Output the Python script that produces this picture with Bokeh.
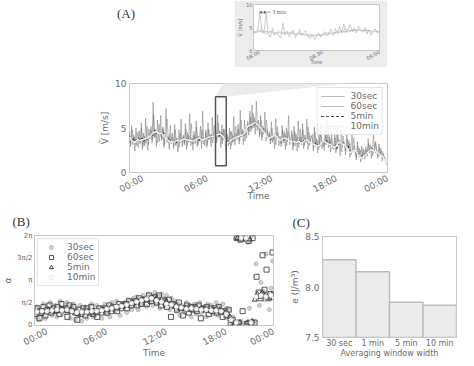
import numpy as np
from bokeh.plotting import figure
from bokeh.layouts import column, row
from bokeh.models import (Spacer, Div, FixedTicker, CustomJSTickFormatter, Legend, LegendItem,
                          Range1d, FactorRange, Arrow, VeeHead, Label, PrintfTickFormatter,
                          AllLabels)
from bokeh.embed import file_html
from bokeh.resources import INLINE

# ---------------- data: panel A (wind speed, m/s) ----------------
v30 = [4.6, 2.9, 5.3, 3.1, 4.2, 2.4, 5.0, 3.6, 2.8, 4.7,
       3.2, 5.6, 2.6, 4.4, 3.0, 6.1, 3.4, 2.5, 4.9, 3.8,
       5.2, 3.3, 7.9, 3.9, 4.8, 2.9, 5.9, 4.1, 3.5, 6.4,
       3.6, 5.1, 2.8, 4.6, 7.2, 3.4, 4.0, 2.6, 5.3, 3.7,
       4.4, 2.7, 5.4, 3.0, 3.9, 2.3, 4.8, 3.3, 6.0, 2.9,
       4.2, 3.1, 5.5, 2.6, 4.5, 3.4, 6.6, 3.0, 3.9, 2.5,
       4.6, 3.2, 5.8, 2.9, 4.1, 3.5, 5.2, 2.7, 6.9, 3.6,
       3.0, 4.8, 2.8, 5.6, 3.7, 4.3, 2.9, 6.2, 3.8, 4.5,
       5.1, 3.3, 6.5, 3.9, 4.7, 2.8, 5.4, 3.6, 4.9, 3.2,
       2.4, 4.3, 3.0, 5.0, 2.6, 4.6, 3.4, 6.3, 3.1, 4.4,
       3.7, 5.4, 3.2, 7.0, 4.0, 4.8, 3.1, 5.9, 4.5, 3.9,
       5.8, 4.2, 6.9, 4.6, 7.6, 5.0, 6.2, 4.3, 8.0, 5.1,
       5.9, 4.0, 6.4, 3.6, 5.2, 4.4, 6.8, 3.5, 4.9, 3.8,
       4.6, 3.2, 5.7, 3.4, 4.2, 2.7, 6.1, 3.8, 4.5, 3.0,
       4.1, 2.9, 5.3, 3.3, 4.6, 2.6, 5.0, 3.5, 6.4, 3.1,
       3.6, 4.7, 2.5, 5.2, 3.0, 4.3, 2.4, 5.8, 3.2, 4.0,
       3.1, 5.5, 2.7, 4.2, 3.4, 6.0, 2.6, 4.5, 3.3, 3.9,
       4.3, 2.4, 5.1, 2.9, 3.8, 2.2, 4.9, 3.0, 5.6, 2.7,
       3.6, 2.5, 4.7, 3.1, 5.9, 2.8, 4.0, 2.3, 4.6, 3.2,
       2.6, 4.4, 2.2, 5.2, 3.0, 3.7, 1.9, 4.8, 2.9, 3.5,
       3.2, 2.0, 4.3, 2.6, 3.6, 1.7, 2.9, 4.6, 2.3, 3.0,
       2.4, 1.4, 3.5, 1.9, 2.7, 1.2, 3.0, 1.8, 2.5, 1.5,
       2.9, 1.8, 3.8, 2.2, 3.1, 1.6, 2.6, 4.2, 2.4, 3.3,
       2.5, 1.6, 3.2, 2.0, 2.7, 1.3, 2.2, 1.7, 1.4, 0.9,
       1.0]
v60 = [4.3, 3.2, 4.8, 3.5, 4.0, 3.0, 4.5, 3.6,
       3.4, 5.0, 2.9, 4.1, 3.3, 5.2, 3.1, 4.3,
       4.8, 3.6, 6.5, 4.0, 4.6, 3.3, 5.4, 4.2,
       3.8, 4.9, 3.1, 4.4, 6.0, 3.6, 4.3, 3.2,
       4.0, 3.0, 4.8, 3.3, 3.7, 2.8, 4.4, 3.4,
       4.0, 3.3, 4.9, 3.0, 4.2, 3.5, 5.5, 3.2,
       4.2, 3.4, 5.1, 3.1, 3.9, 3.6, 4.8, 3.2,
       3.4, 4.5, 3.1, 4.9, 3.8, 4.2, 3.3, 5.3,
       4.7, 3.6, 5.6, 4.0, 4.5, 3.2, 4.9, 3.7,
       2.9, 4.0, 3.2, 4.6, 3.0, 4.2, 3.6, 5.2,
       3.9, 4.9, 3.5, 5.9, 4.1, 4.6, 3.5, 5.1,
       5.4, 4.6, 6.2, 4.9, 6.6, 5.2, 5.8, 4.7,
       5.5, 4.3, 5.8, 4.0, 5.0, 4.5, 5.9, 3.9,
       4.3, 3.5, 5.0, 3.7, 4.1, 3.1, 5.2, 3.9,
       3.9, 3.2, 4.8, 3.5, 4.3, 3.0, 4.6, 3.6,
       3.7, 4.3, 2.9, 4.6, 3.3, 4.0, 2.8, 4.9,
       3.3, 4.8, 3.0, 3.9, 3.5, 5.1, 3.0, 4.1,
       3.9, 2.8, 4.5, 3.1, 3.6, 2.6, 4.3, 3.2,
       3.5, 2.9, 4.2, 3.2, 5.0, 3.0, 3.8, 2.7,
       2.9, 3.9, 2.5, 4.4, 3.1, 3.4, 2.3, 4.1,
       3.0, 2.4, 3.8, 2.7, 3.3, 2.0, 2.8, 3.9,
       2.2, 1.7, 3.0, 2.0, 2.5, 1.5, 2.7, 1.9,
       2.6, 2.0, 3.3, 2.3, 2.8, 1.9, 2.5, 3.5,
       2.4, 1.9, 2.8, 2.1, 2.4, 1.6, 1.7, 1.2,
       1.0]
v5 = [4.1, 3.5, 3.9, 3.4, 3.8, 3.9, 3.6, 3.9, 3.5, 3.8, 3.7, 4.0,
      4.3, 4.1, 4.8, 4.4, 4.6, 4.5, 4.2, 4.5, 3.8, 3.6, 3.9, 3.5,
      3.4, 3.6, 3.3, 3.7, 3.5, 3.6, 3.9, 3.6, 3.8, 3.5, 3.7, 3.6,
      3.5, 3.8, 4.0, 3.6, 3.9, 3.8, 3.6, 4.0, 3.8, 4.1, 3.9, 4.2,
      4.1, 4.4, 4.0, 4.5, 4.2, 3.8, 3.2, 3.5, 3.3, 3.8, 3.6, 3.9,
      3.9, 4.2, 4.0, 4.4, 4.1, 4.6, 5.0, 5.3, 5.1, 5.6, 5.4, 5.7,
      5.3, 5.0, 4.7, 4.4, 4.2, 4.0, 3.9, 3.7, 4.1, 4.3, 4.0, 3.8,
      3.6, 3.9, 3.7, 4.0, 3.8, 3.6, 3.5, 3.7, 3.3, 3.5, 3.4, 3.6,
      3.3, 3.6, 3.4, 3.8, 3.5, 3.3, 3.2, 3.0, 3.4, 3.1, 2.9, 3.2,
      3.5, 3.3, 3.6, 3.2, 3.4, 3.0, 2.8, 3.1, 2.7, 3.4, 3.2, 3.3,
      3.1, 2.8, 3.0, 2.4, 2.2, 2.5, 2.5, 2.0, 1.8, 1.6, 1.9, 2.1,
      2.0, 2.4, 2.6, 2.8, 2.5, 2.3, 2.3, 2.0, 1.8, 1.7, 1.5, 1.2,
      1.0]
v10 = [4.0, 3.5, 3.4, 3.7, 3.6, 3.7, 3.8, 3.9, 4.2, 4.5, 4.6, 4.4,
       4.4, 4.0, 3.7, 3.5, 3.4, 3.5, 3.6, 3.5, 3.8, 3.7, 3.6, 3.6,
       3.5, 3.8, 3.9, 3.7, 3.7, 3.9, 4.0, 4.0, 4.2, 4.3, 4.3, 4.0,
       3.2, 3.4, 3.7, 3.8, 4.0, 4.1, 4.2, 4.5, 5.2, 5.3, 5.5, 5.6,
       5.3, 4.9, 4.5, 4.1, 3.8, 4.0, 4.2, 3.9, 3.6, 3.8, 3.9, 3.7,
       3.5, 3.5, 3.4, 3.5, 3.3, 3.5, 3.7, 3.4, 3.2, 3.1, 3.0, 3.1,
       3.5, 3.4, 3.2, 3.1, 2.8, 3.0, 3.4, 3.2, 3.1, 2.7, 2.2, 2.4,
       2.5, 2.0, 1.6, 1.8, 2.0, 2.4, 2.6, 2.4, 2.3, 2.0, 1.8, 1.4,
       1.0]

# inset (08:00 - 09:00)
zoom_t = [8.0, 9.0]
zoom_v = [0.75, 8.5]
s30 = [4.1, 3.8, 4.3, 8.3, 4.0, 3.7, 8.3, 3.6, 2.9, 4.8,
       3.3, 4.0, 3.1, 2.7, 5.9, 3.4, 4.2, 3.0, 3.7, 4.4,
       2.8, 3.5, 4.6, 3.2, 3.9, 4.3, 3.0, 2.6, 3.4, 2.4,
       3.1, 3.8, 2.9, 3.5, 4.1, 3.2, 3.9, 4.6, 3.3, 4.8,
       3.7, 5.2, 4.0, 5.8, 3.9, 4.6, 5.6, 4.1, 4.9, 3.8,
       5.3, 4.4, 4.0, 5.0, 3.6, 4.5, 3.3, 4.2, 4.7, 3.8, 4.1]
s60 = [4.0, 4.3, 4.5, 3.6, 4.1, 3.5, 4.3, 3.7, 3.8, 4.0, 3.6, 3.9, 3.4, 3.2, 3.1,
       3.5, 3.4, 3.7, 3.9, 3.6, 4.3, 4.2, 4.7, 4.3, 4.6, 4.4, 4.3, 4.5, 4.0, 4.2, 4.0]
s5 = [4.0, 4.2, 3.9, 3.8, 3.6, 3.5, 3.2, 3.5, 3.9, 4.2, 4.4, 4.3, 4.1]
s10 = [4.1, 3.9, 3.7, 3.3, 3.8, 4.3, 4.0]
gap_t = [8.05, 8.1]
gap_label = "≈ 3 min"
inset_ticks = [8.0, 8.5, 9.0]
inset_tick_labels = ["08:00", "08:30", "09:00"]

# ---------------- data: panel B (alpha, rad) ----------------
b30 = [0.6, 1.3, 0.4, 1.1, 0.8, 1.5, 0.5, 1.2, 0.9, 1.6, 0.7, 1.3,
       1.4, 0.6, 1.1, 1.7, 0.8, 1.2, 0.9, 1.6, 1.3, 0.5, 1.2, 1.5,
       0.4, 1.2, 0.7, 1.4, 0.3, 1.0, 1.3, 0.5, 1.1, 0.8, 1.5, 0.6,
       0.7, 1.4, 0.9, 1.2, 0.5, 1.3, 1.5, 0.8, 1.3, 0.6, 1.6, 1.1,
       1.0, 1.7, 1.2, 0.7, 1.5, 1.3, 1.6, 0.9, 1.8, 1.3, 1.1, 1.9,
       1.4, 2.0, 1.1, 1.8, 1.5, 2.1, 1.9, 1.3, 2.2, 1.6, 2.0, 1.4,
       2.3, 1.5, 2.0, 1.2, 2.2, 1.7, 1.4, 2.1, 1.6, 1.1, 1.9, 1.3,
       1.7, 1.0, 1.5, 0.7, 1.4, 1.2, 0.9, 1.6, 1.1, 1.4, 0.6, 1.3,
       1.5, 0.8, 1.2, 1.6, 0.9, 1.1, 1.3, 0.6, 1.5, 1.0, 1.4, 0.8,
       1.1, 1.6, 0.7, 1.3, 1.0, 1.5, 0.8, 1.2, 0.5, 1.1, 0.3, 0.6,
       0.2, 6.1, 0.1, 5.9, 0.3, 6.2, 6.0, 0.2, 5.8, 1.2, 6.2, 0.1,
       0.3, 4.3, 2.1, 1.4, 3.0, 2.4, 1.8, 5.0, 2.2, 1.1, 2.6, 4.5]
b60 = [0.8, 1.2, 0.5, 1.0, 1.3, 0.7, 1.1, 1.4, 0.9, 1.2,
       1.0, 1.3, 0.8, 1.5, 1.1, 1.2, 0.6, 1.4, 1.0, 1.3,
       0.9, 0.4, 1.1, 0.8, 1.2, 0.7, 1.2, 0.9, 1.3, 0.8,
       1.0, 0.6, 1.2, 0.9, 1.1, 1.2, 0.9, 1.4, 1.0, 1.3,
       1.3, 1.0, 1.5, 1.2, 1.4, 1.5, 1.2, 1.7, 1.4, 1.6,
       1.7, 1.4, 1.9, 1.5, 1.8, 1.8, 1.5, 2.1, 1.7, 1.9,
       2.0, 1.6, 2.1, 1.4, 1.8, 1.7, 1.3, 1.8, 0.6, 1.5,
       1.4, 1.1, 1.6, 1.2, 0.7, 1.2, 1.4, 0.9, 1.3, 1.1,
       1.3, 1.0, 1.4, 0.5, 1.2, 1.1, 1.3, 0.8, 1.2, 1.0,
       1.2, 0.9, 1.3, 1.0, 0.6, 1.0, 0.7, 1.1, 0.2, 0.4,
       0.1, 6.1, 0.2, 6.0, 1.0, 6.2, 0.1, 5.9, 0.2, 6.1,
       0.2, 3.4, 2.3, 1.9, 4.9, 2.5, 3.9, 1.9, 2.2, 5.1]
b5 = [0.9, 1.0, 0.8, 1.0, 0.9, 1.1, 1.0, 1.0, 1.1, 1.0, 1.2, 1.1,
      1.1, 1.0, 1.1, 1.0, 0.9, 0.8, 0.9, 1.0, 0.9, 1.0, 0.9, 1.0,
      0.9, 1.0, 1.0, 1.1, 1.1, 1.1, 1.2, 1.2, 1.2, 1.3, 1.3, 1.4,
      1.4, 1.5, 1.5, 1.6, 1.6, 1.7, 1.7, 1.8, 1.8, 1.8, 1.9, 1.9,
      1.8, 1.7, 1.7, 1.6, 1.6, 1.5, 1.5, 1.4, 1.3, 1.3, 1.2, 1.2,
      1.2, 1.1, 1.2, 1.1, 1.2, 1.1, 1.1, 1.2, 1.1, 1.1, 1.0, 1.1,
      1.1, 1.0, 1.1, 1.0, 0.9, 0.8, 0.6, 0.3, 0.2, 6.1, 0.2, 6.0,
      6.1, 0.2, 6.0, 0.3, 1.8, 2.2, 2.0, 2.3, 2.1, 2.0, 1.9, 2.2]
b10 = [0.95, 1.0, 1.0, 1.05, 1.1, 1.05, 1.1, 1.0, 0.9, 0.95, 0.95, 1.0,
       1.0, 1.05, 1.15, 1.2, 1.3, 1.35, 1.45, 1.55, 1.65, 1.75, 1.85, 1.9,
       1.75, 1.65, 1.5, 1.45, 1.3, 1.25, 1.15, 1.2, 1.15, 1.1, 1.1, 1.05,
       1.05, 1.0, 0.8, 0.4, 0.2, 6.1, 6.1, 0.2, 2.0, 2.1, 2.0, 2.1]
alpha_ticks = [0.0, np.pi / 2, np.pi, 3 * np.pi / 2, 2 * np.pi]
alpha_tick_labels = ["0", "π/2", "π", "3π/2", "2π"]

# ---------------- data: panel C ----------------
windows = ["30 sec", "1 min", "5 min", "10 min"]
energy = [8.27, 8.15, 7.85, 7.82]

series_names = ["30sec", "60sec", "5min", "10min"]
hour_ticks = [0, 6, 12, 18, 24]
hour_tick_labels = ["00:00", "06:00", "12:00", "18:00", "00:00"]

TXT = "#6b6b6b"
FRAME = "#c8c8c8"
FONT = "DejaVu Sans"


def style(p, fs="9px"):
    p.outline_line_color = FRAME
    p.outline_line_width = 1
    for ax in p.axis:
        ax.axis_line_color = None
        ax.major_tick_line_color = None
        ax.minor_tick_line_color = None
        ax.major_tick_out = 0
        ax.major_tick_in = 0
        ax.minor_tick_out = 0
        ax.minor_tick_in = 0
        ax.major_label_text_color = TXT
        ax.major_label_text_font = FONT
        ax.major_label_text_font_size = fs
        ax.major_label_policy = AllLabels()
        ax.axis_label_text_color = TXT
        ax.axis_label_text_font = FONT
        ax.axis_label_text_font_size = fs
        ax.axis_label_text_font_style = "normal"
        ax.major_label_standoff = 3
        ax.axis_label_standoff = 2
    p.xgrid.grid_line_color = None
    p.ygrid.grid_line_color = None


def rotated_time_axis(p, ticks, texts, shift, standoff, label_standoff):
    """Rotated tick labels, centred under their ticks (Bokeh anchors a rotated
    label by its right end, so the invisible ticks are moved by half a label;
    the last one has to stay on the frame edge)."""
    shifted = [t + shift for t in ticks[:-1]] + [ticks[-1]]
    p.xaxis.ticker = FixedTicker(ticks=shifted)
    p.xaxis.formatter = CustomJSTickFormatter(args=dict(pos=shifted, texts=texts), code="""
let k = 0;
for (let i = 0; i < pos.length; i++) { if (Math.abs(pos[i] - tick) < 1e-6) { k = i; } }
return texts[k];
""")
    p.xaxis.major_label_orientation = 0.5
    p.xaxis.major_label_standoff = standoff
    p.xaxis.axis_label_standoff = label_standoff


def title_style(p, offset):
    p.title.text_font = "Liberation Serif"
    p.title.text_font_size = "13px"
    p.title.text_font_style = "normal"
    p.title.text_color = "#333333"
    p.title.align = "left"
    p.title.offset = offset
    p.title.standoff = 14


# ---------------- inset ----------------
pI = figure(width=153, height=67, x_range=Range1d(*zoom_t), y_range=Range1d(0, 10),
            output_backend="svg", toolbar_location=None,
            min_border_left=16, min_border_right=8, min_border_top=4, min_border_bottom=16,
            border_fill_color="#ececec", background_fill_color="white")
pI.line(np.linspace(zoom_t[0], zoom_t[1], len(s30)), s30, line_color="#aaaaaa", line_width=0.6)
pI.line(np.linspace(zoom_t[0], zoom_t[1], len(s60)), s60, line_color="#bbbbbb", line_width=0.6)
pI.line(np.linspace(zoom_t[0], zoom_t[1], len(s5)), s5, line_color="#777777", line_width=0.6,
        line_dash="2 1")
pI.line(np.linspace(zoom_t[0], zoom_t[1], len(s10)), s10, line_color="#dddddd", line_width=0.8)
pI.add_layout(Arrow(start=VeeHead(size=2, line_color="#666666", fill_color="#666666"),
                    end=VeeHead(size=2, line_color="#666666", fill_color="#666666"),
                    x_start=gap_t[0], x_end=gap_t[1], y_start=8.3, y_end=8.3,
                    line_color="#666666", line_width=0.6))
pI.add_layout(Label(x=gap_t[1] + 0.01, y=8.3, text=gap_label, text_font="Liberation Serif",
                    text_font_size="6px", text_color="#777777", text_baseline="middle"))
style(pI, fs="5px")
pI.yaxis.ticker = FixedTicker(ticks=[0, 5, 10])
pI.yaxis.major_label_standoff = 1
pI.yaxis.axis_label_standoff = 0
pI.xaxis.axis_label = "Time"
pI.yaxis.axis_label = "V̄ [m/s]"
rotated_time_axis(pI, inset_ticks, inset_tick_labels, 0.046875, 1, -8)

# ---------------- panel A ----------------
pA = figure(width=312, height=126, x_range=Range1d(0, 24), y_range=Range1d(0, 10),
            output_backend="svg", toolbar_location=None,
            min_border_left=36, min_border_right=18, min_border_top=6, min_border_bottom=27)
# zoom wedge (decoration linking the box to the inset)
pA.patch([zoom_t[0], zoom_t[1], 23.1, 8.85], [zoom_v[1], zoom_v[1], 10.4, 10.4],
         fill_color="#ececec", line_color=None)
rA30 = pA.line(np.linspace(0, 24, len(v30)), v30, line_color="#6f6f6f", line_alpha=0.6, line_width=0.8)
rA60 = pA.line(np.linspace(0, 24, len(v60)), v60, line_color="#666666", line_alpha=0.5, line_width=0.8)
rA5 = pA.line(np.linspace(0, 24, len(v5)), v5, line_color="#333333", line_width=0.9, line_dash="3 2")
rA10 = pA.line(np.linspace(0, 24, len(v10)), v10, line_color="#f4f4f4", line_width=1.4)
pA.quad(left=zoom_t[0], right=zoom_t[1], bottom=zoom_v[0], top=zoom_v[1],
        fill_color=None, line_color="#555555", line_width=1.5)
legA = Legend(items=[LegendItem(label=series_names[0], renderers=[rA30]),
                     LegendItem(label=series_names[1], renderers=[rA60]),
                     LegendItem(label=series_names[2], renderers=[rA5]),
                     LegendItem(label=series_names[3], renderers=[rA10])],
              location="top_right", margin=4, padding=3, spacing=0,
              label_text_font=FONT, label_text_font_size="9px", label_text_color=TXT,
              label_height=10, glyph_height=10, glyph_width=24, label_standoff=6,
              border_line_color=FRAME, background_fill_alpha=0.85)
pA.add_layout(legA)
style(pA)
pA.yaxis.ticker = FixedTicker(ticks=[0, 5, 10])
pA.xaxis.axis_label = "Time"
pA.yaxis.axis_label = "V̄ [m/s]"
rotated_time_axis(pA, hour_ticks, hour_tick_labels, 1.25, 5, -11)

# ---------------- panel B ----------------
pB = figure(width=287, height=157, x_range=Range1d(0, 24), y_range=Range1d(-0.001, 2 * np.pi),
            output_backend="svg", toolbar_location=None, title="(B)",
            min_border_left=24, min_border_right=14, min_border_top=32, min_border_bottom=31)
def grid_t(n):
    return np.arange(n) * 24.0 / n + 12.0 / n
rB30 = pB.scatter(grid_t(len(b30)), b30, marker="circle", size=4, fill_color="#c4c4c4",
                  line_color="#b0b0b0", fill_alpha=0.8, line_alpha=0.8)
rB60 = pB.scatter(grid_t(len(b60)), b60, marker="square", size=5, fill_color=None,
                  line_color="#555555", line_width=1)
rB5 = pB.scatter(grid_t(len(b5)), b5, marker="triangle", size=5, fill_color=None,
                 line_color="#444444", line_width=1)
rB10 = pB.scatter(grid_t(len(b10)), b10, marker="circle", size=4, fill_color="white",
                  line_color="#e2e2e2")
legB = Legend(items=[LegendItem(label=series_names[0], renderers=[rB30]),
                     LegendItem(label=series_names[1], renderers=[rB60]),
                     LegendItem(label=series_names[2], renderers=[rB5]),
                     LegendItem(label=series_names[3], renderers=[rB10])],
              location="top_left", margin=3, padding=3, spacing=0,
              label_text_font=FONT, label_text_font_size="9px", label_text_color=TXT,
              label_height=10, glyph_height=10, glyph_width=20, label_standoff=6,
              border_line_color=FRAME, background_fill_alpha=0.85)
pB.add_layout(legB)
style(pB)
title_style(pB, -22)
pB.yaxis.ticker = FixedTicker(ticks=alpha_ticks)
pB.yaxis.major_label_overrides = {float(t): s for t, s in zip(alpha_ticks, alpha_tick_labels)}
pB.yaxis.major_label_text_font_size = "7px"
pB.yaxis.major_label_standoff = 2
pB.yaxis.axis_label_standoff = 1
pB.xaxis.axis_label = "Time"
pB.yaxis.axis_label = "α"
rotated_time_axis(pB, hour_ticks, hour_tick_labels, 1.25, 5, -7)

# ---------------- panel C ----------------
pC = figure(width=171, height=157, x_range=FactorRange(factors=windows, range_padding=0),
            y_range=Range1d(7.5, 8.5), output_backend="svg", toolbar_location=None, title="(C)",
            min_border_left=30, min_border_right=2, min_border_top=33, min_border_bottom=20)
pC.vbar(x=windows, top=energy, bottom=7.5, width=1.0, fill_color="#ebebeb",
        line_color="#bdbdbd", line_width=1.5)
style(pC)
title_style(pC, -30)
pC.yaxis.ticker = FixedTicker(ticks=[7.5, 8.0, 8.5])
pC.yaxis.formatter = PrintfTickFormatter(format="%.1f")
pC.xaxis.axis_label = "Averaging window width"
pC.yaxis.axis_label = "e (J/m³)"
pC.xaxis.axis_label_text_font_size = "8px"
pC.xaxis.major_label_text_font_size = "8px"
pC.xaxis.major_label_standoff = 1
pC.xaxis.axis_label_standoff = -2

divA = Div(text="(A)", width=112, height=67,
           styles={"font-family": "Liberation Serif", "font-size": "13px", "color": "#333333"})

layout = column(
    row(Spacer(width=112, height=67), divA, pI),
    row(Spacer(width=93, height=126), pA),
    row(column(pB), column(pC)),
)

open("out.html", "w").write(file_html(layout, INLINE))
